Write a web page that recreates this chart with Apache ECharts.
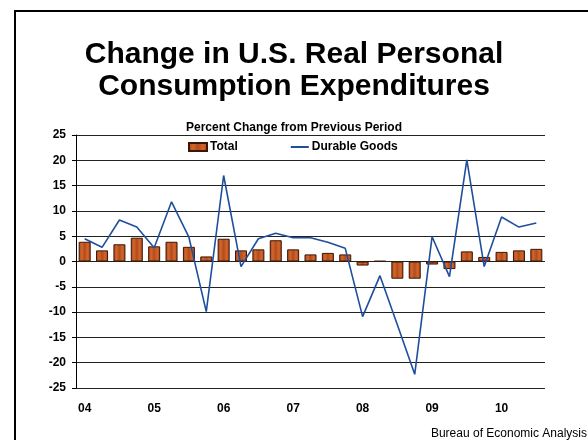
<!DOCTYPE html>
<html>
<head>
<meta charset="utf-8">
<script src="https://cdn.jsdelivr.net/npm/echarts@6/dist/echarts.min.js"></script>
<style>
html,body{margin:0;padding:0;background:#fff;}
#chart{width:588px;height:440px;}
</style>
</head>
<body>
<div id="chart"></div>
<script>
var quarters = ['04Q1','04Q2','04Q3','04Q4','05Q1','05Q2','05Q3','05Q4','06Q1','06Q2','06Q3','06Q4',
  '07Q1','07Q2','07Q3','07Q4','08Q1','08Q2','08Q3','08Q4','09Q1','09Q2','09Q3','09Q4','10Q1','10Q2','10Q3'];
var totalPCE = [3.9, 2.2, 3.4, 4.7, 3.0, 3.9, 2.9, 1.0, 4.5, 2.2, 2.4, 4.2, 2.4, 1.4, 1.7, 1.4,
  -0.8, 0.1, -3.4, -3.4, -0.6, -1.5, 2.0, 0.9, 1.9, 2.2, 2.5];
var durableGoods = [4.5, 2.8, 8.2, 6.8, 2.7, 11.8, 4.8, -9.9, 17.0, -1.0, 4.5, 5.6, 4.7, 4.7, 3.8, 2.6,
  -10.9, -2.8, -12.5, -22.3, 4.9, -3.0, 20.1, -1.0, 8.8, 6.8, 7.6];
var seriesNames = ['Total', 'Durable Goods'];
var titleText = 'Change in U.S. Real Personal\nConsumption Expenditures';
var subtitleText = 'Percent Change from Previous Period';
var sourceText = 'Bureau of Economic Analysis';

var FONT = '"Liberation Sans", Arial, sans-serif';
var chart = echarts.init(document.getElementById('chart'), null, {renderer: 'canvas'});

var barFill = new echarts.graphic.LinearGradient(0, 0, 1, 0, [
  {offset: 0, color: '#a9441a'},
  {offset: 0.25, color: '#d2652b'},
  {offset: 0.5, color: '#b24c1e'},
  {offset: 0.75, color: '#d2652b'},
  {offset: 1, color: '#a9441a'}
]);

chart.setOption({
  animation: false,
  backgroundColor: '#fff',
  textStyle: {fontFamily: FONT},
  title: [{
    text: titleText,
    left: 'center',
    top: 34,
    textStyle: {fontFamily: FONT, fontSize: 30, fontWeight: 'bold', color: '#000', lineHeight: 32}
  }, {
    text: subtitleText,
    left: 'center',
    top: 121,
    padding: 0,
    textStyle: {fontFamily: FONT, fontSize: 12, fontWeight: 'bold', color: '#000', lineHeight: 14}
  }],
  legend: {
    left: 188,
    top: 141,
    padding: 0,
    itemGap: 52,
    itemWidth: 18,
    itemHeight: 8,
    textStyle: {fontFamily: FONT, fontSize: 12, fontWeight: 'bold', color: '#000', padding: [0, 0, 0, -2]},
    data: [
      {name: seriesNames[0], icon: 'rect'},
      {name: seriesNames[1], itemStyle: {opacity: 0}}
    ]
  },
  grid: {left: 76, right: 43, top: 135, bottom: 52, containLabel: false},
  xAxis: {
    type: 'category',
    data: quarters,
    boundaryGap: true,
    position: 'bottom',
    axisLine: {show: false, onZero: false},
    axisTick: {show: false},
    axisLabel: {
      interval: function (index) { return index % 4 === 0; },
      formatter: function (v) { return v.slice(0, 2); },
      margin: 15,
      fontFamily: FONT, fontSize: 12, fontWeight: 'bold', color: '#000'
    },
    splitLine: {show: false}
  },
  yAxis: {
    type: 'value',
    min: -25, max: 25, interval: 5,
    axisLine: {show: true, lineStyle: {color: '#000', width: 1}},
    axisTick: {show: true, length: 4, lineStyle: {color: '#000'}},
    axisLabel: {margin: 10, fontFamily: FONT, fontSize: 12, fontWeight: 'bold', color: '#000'},
    splitLine: {show: true, lineStyle: {color: '#222', width: 1}}
  },
  series: [{
    name: seriesNames[0],
    type: 'bar',
    data: totalPCE,
    barWidth: 12,
    itemStyle: {color: barFill, borderColor: '#3a1606', borderWidth: 1}
  }, {
    name: seriesNames[1],
    type: 'line',
    data: durableGoods,
    symbol: 'none',
    lineStyle: {color: '#1f4f9c', width: 1.6},
    itemStyle: {color: '#1f4f9c'},
    z: 3
  }],
  graphic: [
    {type: 'line', shape: {x1: 15, y1: 11, x2: 588, y2: 11}, style: {stroke: '#000', lineWidth: 2}, silent: true},
    {type: 'line', shape: {x1: 15, y1: 10, x2: 15, y2: 440}, style: {stroke: '#000', lineWidth: 2}, silent: true},
    {type: 'text', right: 1, top: 428, style: {text: sourceText, font: '12px ' + FONT, fill: '#000'}, silent: true}
  ]
});
</script>
</body>
</html>
